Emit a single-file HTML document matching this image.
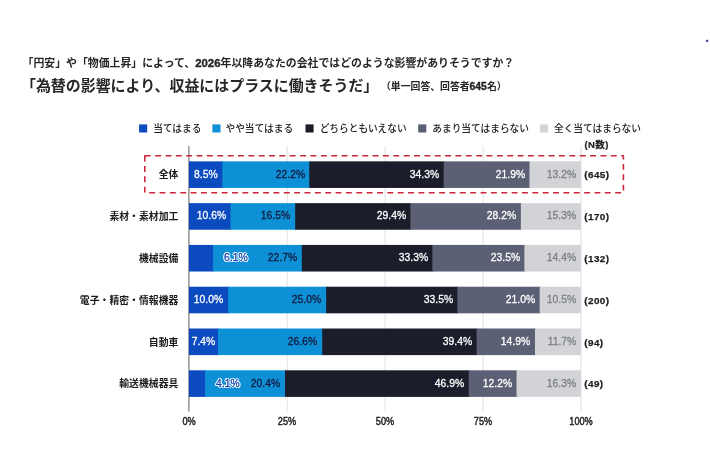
<!DOCTYPE html>
<html lang="ja"><head><meta charset="utf-8">
<style>
*{margin:0;padding:0;box-sizing:border-box}
html,body{width:710px;height:474px;background:#fff;overflow:hidden}
body{position:relative;font-family:"Liberation Sans","Noto Sans CJK JP",sans-serif;color:#1c1c1c}
.abs{position:absolute;white-space:nowrap}
.t1{color:#262626;left:22.6px;top:53.5px;font-size:10.88px;font-weight:700;line-height:18px}
.t2{color:#262626;left:21px;top:73.5px;font-size:14.95px;font-weight:700;line-height:24px}
.t3{color:#262626;left:381px;top:78px;font-size:9.86px;font-weight:700;line-height:18px}
.lg{top:119.7px;font-size:9.7px;line-height:18px;font-weight:500;color:#222}
.sq{position:absolute;top:124.2px;width:8.2px;height:8.2px}
.n{letter-spacing:0.45px;left:584.4px;top:135.8px;font-size:9.5px;-webkit-text-stroke:0.2px currentColor;font-weight:700;line-height:18px}
.grid{position:absolute;top:146px;width:1px;height:266px;background:#e2e2e2}
.axis{position:absolute;left:188.45px;top:146px;width:1px;height:266px;background:#888}
.seg{position:absolute;height:26.6px}
.v{position:absolute;height:26.6px;line-height:26.6px;font-size:11.7px;color:#fff;white-space:nowrap;text-align:right;transform:scaleX(0.885);transform-origin:right center;-webkit-text-stroke:0.3px currentColor}
.c1{background:#0b4bbf}.c2{background:#0d90d5}.c3{background:#1b1d2b}.c4{background:#5c6074}.c5{background:#d1d3d6}
.lab{position:absolute;right:531.6px;font-size:9.87px;font-weight:700;line-height:27.6px;white-space:nowrap}
.cnt{position:absolute;left:584.3px;font-size:9.9px;letter-spacing:0.4px;font-weight:700;-webkit-text-stroke:0.25px currentColor;line-height:27.6px;white-space:nowrap}
.tick{position:absolute;top:413.5px;font-size:10.4px;line-height:16px;width:60px;text-align:center;color:#222;transform:scaleX(0.88);-webkit-text-stroke:0.45px currentColor}
.dash{position:absolute;left:143.5px;top:154.8px;width:480.5px;height:38.5px;border:1.6px dashed #c9273f;border-radius:2px}
.out{color:#0a3fae;font-size:11.7px;-webkit-text-stroke:0.28px #0a3fae;text-shadow:1.3px 0 0 #fff,-1.3px 0 0 #fff,0 1.15px 0 #fff,0 -1.15px 0 #fff,0.95px 0.85px 0 #fff,-0.95px 0.85px 0 #fff,0.95px -0.85px 0 #fff,-0.95px -0.85px 0 #fff;transform:scaleX(0.885);transform-origin:left center;letter-spacing:0.05px}
.dg{-webkit-text-stroke:0.35px currentColor;font-size:1.05em}
.dot{position:absolute;left:706px;top:39.8px;width:2.3px;height:2.2px;background:#554aa8}

</style></head><body>
<div class="abs t1">「円安」や「物価上昇」によって、<span class="dg">2026</span>年以降あなたの会社ではどのような影響がありそうですか？</div>
<div class="abs t2">「為替の影響により、収益にはプラスに働きそうだ」</div>
<div class="abs t3">（単一回答、回答者<span class="dg">645</span>名）</div>
<svg class="abs" style="left:0;top:0" width="710" height="474" viewBox="0 0 710 474">
<rect x="705.95" y="39.8" width="2.3" height="2.2" fill="#554aa8"/>
<rect x="139.1" y="124.4" width="8.1" height="8.1" fill="#0b4bbf"/>
<rect x="212.4" y="124.4" width="8.1" height="8.1" fill="#0d90d5"/>
<rect x="305.5" y="124.4" width="8.1" height="8.1" fill="#1b1d2b"/>
<rect x="418.2" y="124.4" width="8.1" height="8.1" fill="#5c6074"/>
<rect x="539.9" y="124.4" width="8.1" height="8.1" fill="#d1d3d6"/>
<rect x="286.7" y="146" width="1" height="265.6" fill="#e0e0e0"/>
<rect x="384.6" y="146" width="1" height="265.6" fill="#e0e0e0"/>
<rect x="482.6" y="146" width="1" height="265.6" fill="#e0e0e0"/>
<rect x="580.5" y="146" width="1" height="265.6" fill="#e0e0e0"/>
<rect x="188.35" y="146" width="1.1" height="265.6" fill="#6e6e6e"/>
<rect x="189.00" y="161.35" width="34.10" height="26.6" fill="#0b4bbf"/>
<rect x="222.30" y="161.35" width="87.78" height="26.6" fill="#0d90d5"/>
<rect x="309.28" y="161.35" width="135.19" height="26.6" fill="#1b1d2b"/>
<rect x="443.67" y="161.35" width="86.60" height="26.6" fill="#5c6074"/>
<rect x="529.47" y="161.35" width="51.33" height="26.6" fill="#d1d3d6"/>
<rect x="189.00" y="203.14" width="42.33" height="26.6" fill="#0b4bbf"/>
<rect x="230.53" y="203.14" width="65.45" height="26.6" fill="#0d90d5"/>
<rect x="295.18" y="203.14" width="115.99" height="26.6" fill="#1b1d2b"/>
<rect x="410.37" y="203.14" width="111.29" height="26.6" fill="#5c6074"/>
<rect x="520.85" y="203.14" width="59.95" height="26.6" fill="#d1d3d6"/>
<rect x="189.00" y="244.93" width="24.70" height="26.6" fill="#0b4bbf"/>
<rect x="212.90" y="244.93" width="89.74" height="26.6" fill="#0d90d5"/>
<rect x="301.84" y="244.93" width="131.27" height="26.6" fill="#1b1d2b"/>
<rect x="432.31" y="244.93" width="92.87" height="26.6" fill="#5c6074"/>
<rect x="524.38" y="244.93" width="56.42" height="26.6" fill="#d1d3d6"/>
<rect x="189.00" y="286.72" width="39.98" height="26.6" fill="#0b4bbf"/>
<rect x="228.18" y="286.72" width="98.75" height="26.6" fill="#0d90d5"/>
<rect x="326.13" y="286.72" width="132.05" height="26.6" fill="#1b1d2b"/>
<rect x="457.38" y="286.72" width="83.08" height="26.6" fill="#5c6074"/>
<rect x="539.66" y="286.72" width="41.14" height="26.6" fill="#d1d3d6"/>
<rect x="189.00" y="328.51" width="29.79" height="26.6" fill="#0b4bbf"/>
<rect x="217.99" y="328.51" width="105.02" height="26.6" fill="#0d90d5"/>
<rect x="322.21" y="328.51" width="155.17" height="26.6" fill="#1b1d2b"/>
<rect x="476.58" y="328.51" width="59.18" height="26.6" fill="#5c6074"/>
<rect x="534.96" y="328.51" width="45.84" height="26.6" fill="#d1d3d6"/>
<rect x="189.00" y="370.30" width="16.86" height="26.6" fill="#0b4bbf"/>
<rect x="205.06" y="370.30" width="80.73" height="26.6" fill="#0d90d5"/>
<rect x="284.99" y="370.30" width="184.55" height="26.6" fill="#1b1d2b"/>
<rect x="468.75" y="370.30" width="48.60" height="26.6" fill="#5c6074"/>
<rect x="516.54" y="370.30" width="64.26" height="26.6" fill="#d1d3d6"/>
<rect x="144.8" y="155.8" width="478.6" height="36.9" fill="none" stroke="#c9273f" stroke-width="1.6" stroke-linejoin="round" stroke-dasharray="5.9 4.456"/>
</svg>
<div class="abs lg" style="left:153.2px">当てはまる</div>
<div class="abs lg" style="left:225.5px">やや当てはまる</div>
<div class="abs lg" style="left:319.7px">どちらともいえない</div>
<div class="abs lg" style="left:432.3px">あまり当てはまらない</div>
<div class="abs lg" style="left:554px">全く当てはまらない</div>
<div class="abs n">(N数)</div>
<div class="lab" style="top:161.35px">全体</div>
<div class="v" style="right:492.30px;top:160.65px;color:#fff">8.5%</div>
<div class="v" style="right:405.32px;top:160.65px;color:#14183a">22.2%</div>
<div class="v" style="right:270.93px;top:160.65px;color:#fff">34.3%</div>
<div class="v" style="right:185.13px;top:160.65px;color:#fff">21.9%</div>
<div class="v" style="right:133.80px;top:160.65px;color:#7c7e83">13.2%</div>
<div class="cnt" style="top:161.35px">(645)</div>
<div class="lab" style="top:203.14px">素材・素材加工</div>
<div class="v" style="right:484.07px;top:202.44px;color:#fff">10.6%</div>
<div class="v" style="right:419.42px;top:202.44px;color:#14183a">16.5%</div>
<div class="v" style="right:304.23px;top:202.44px;color:#fff">29.4%</div>
<div class="v" style="right:193.75px;top:202.44px;color:#fff">28.2%</div>
<div class="v" style="right:133.80px;top:202.44px;color:#7c7e83">15.3%</div>
<div class="cnt" style="top:203.14px">(170)</div>
<div class="lab" style="top:244.93px">機械設備</div>
<div class="v out" style="left:223.90px;top:244.23px">6.1%</div>
<div class="v" style="right:412.76px;top:244.23px;color:#14183a">22.7%</div>
<div class="v" style="right:282.29px;top:244.23px;color:#fff">33.3%</div>
<div class="v" style="right:190.22px;top:244.23px;color:#fff">23.5%</div>
<div class="v" style="right:133.80px;top:244.23px;color:#7c7e83">14.4%</div>
<div class="cnt" style="top:244.93px">(132)</div>
<div class="lab" style="top:286.72px">電子・精密・情報機器</div>
<div class="v" style="right:486.42px;top:286.02px;color:#fff">10.0%</div>
<div class="v" style="right:388.47px;top:286.02px;color:#14183a">25.0%</div>
<div class="v" style="right:257.22px;top:286.02px;color:#fff">33.5%</div>
<div class="v" style="right:174.94px;top:286.02px;color:#fff">21.0%</div>
<div class="v" style="right:133.80px;top:286.02px;color:#7c7e83">10.5%</div>
<div class="cnt" style="top:286.72px">(200)</div>
<div class="lab" style="top:328.51px">自動車</div>
<div class="v" style="left:189.00px;width:28.99px;text-align:center;transform-origin:center center;top:327.81px;color:#fff">7.4%</div>
<div class="v" style="right:392.39px;top:327.81px;color:#14183a">26.6%</div>
<div class="v" style="right:238.02px;top:327.81px;color:#fff">39.4%</div>
<div class="v" style="right:179.64px;top:327.81px;color:#fff">14.9%</div>
<div class="v" style="right:133.80px;top:327.81px;color:#7c7e83">11.7%</div>
<div class="cnt" style="top:328.51px">(94)</div>
<div class="lab" style="top:370.30px">輸送機械器具</div>
<div class="v out" style="left:216.06px;top:369.60px">4.1%</div>
<div class="v" style="right:429.61px;top:369.60px;color:#14183a">20.4%</div>
<div class="v" style="right:245.85px;top:369.60px;color:#fff">46.9%</div>
<div class="v" style="right:198.06px;top:369.60px;color:#fff">12.2%</div>
<div class="v" style="right:133.80px;top:369.60px;color:#7c7e83">16.3%</div>
<div class="cnt" style="top:370.30px">(49)</div>
<div class="tick" style="left:159px">0%</div>
<div class="tick" style="left:257px">25%</div>
<div class="tick" style="left:355px">50%</div>
<div class="tick" style="left:453px">75%</div>
<div class="tick" style="left:551px">100%</div>
</body></html>
